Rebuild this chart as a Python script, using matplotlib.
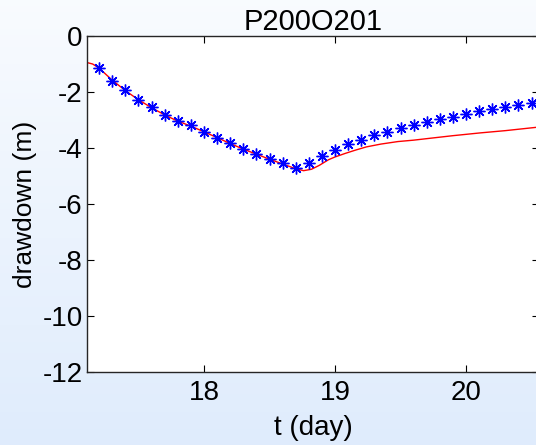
import numpy as np
import matplotlib.pyplot as plt

plt.rcParams['font.family'] = ['Liberation Sans', 'DejaVu Sans']

# observed drawdown (every 0.1 day)
t_obs = [17.2, 17.3, 17.4, 17.5, 17.6, 17.7, 17.8, 17.9, 18.0, 18.1,
         18.2, 18.3, 18.4, 18.5, 18.6, 18.7, 18.8, 18.9, 19.0, 19.1,
         19.2, 19.3, 19.4, 19.5, 19.6, 19.7, 19.8, 19.9, 20.0, 20.1,
         20.2, 20.3, 20.4, 20.5]
s_obs = [-1.13, -1.60, -1.94, -2.27, -2.55, -2.81, -3.02, -3.19, -3.42, -3.63,
         -3.83, -4.04, -4.21, -4.39, -4.55, -4.73, -4.55, -4.29, -4.07, -3.87,
         -3.70, -3.54, -3.42, -3.30, -3.19, -3.08, -2.98, -2.88, -2.80, -2.69,
         -2.62, -2.55, -2.48, -2.40]

# simulated drawdown
t_sim = [17.10, 17.15, 17.2, 17.3, 17.4, 17.5, 17.6, 17.7, 17.8, 17.9,
         18.0, 18.1, 18.2, 18.3, 18.4, 18.5, 18.6, 18.7, 18.76, 18.82,
         18.88, 18.95, 19.0, 19.08, 19.16, 19.24, 19.35, 19.48, 19.6, 19.73,
         19.9, 20.11, 20.3, 20.56]
s_sim = [-0.94, -1.00, -1.15, -1.58, -1.95, -2.28, -2.56, -2.82, -3.04, -3.22,
         -3.42, -3.63, -3.84, -4.04, -4.22, -4.40, -4.57, -4.74, -4.81, -4.76,
         -4.62, -4.42, -4.32, -4.19, -4.07, -3.96, -3.86, -3.77, -3.72, -3.65,
         -3.56, -3.46, -3.38, -3.25]

W, H = 536, 445
fig = plt.figure(figsize=(W / 100, H / 100), dpi=100)

# pale blue vertical gradient behind everything
bg = fig.add_axes([0, 0, 1, 1], zorder=-1)
grad = np.linspace(0, 1, 256).reshape(-1, 1)
top = np.array([0.975, 0.985, 0.998])
bot = np.array([0.875, 0.925, 0.990])
img = top + (bot - top) * grad[:, :, None]
bg.imshow(img, aspect='auto', extent=[0, 1, 0, 1])
bg.axis('off')

x0, x1 = 87 / W, 539 / W
y0, y1 = 1 - 372 / H, 1 - 36 / H
ax = fig.add_axes([x0, y0, x1 - x0, y1 - y0])
ax.set_facecolor('white')

ax.plot(t_sim, s_sim, color='red', lw=1.0)
ax.plot(t_obs, s_obs, ls='none', marker=(8, 2, 0), ms=8.5, mew=1.0,
        color='#0000ff')

ax.set_xlim(17.107, 20.557)
ax.set_ylim(-12, 0)
ax.set_xticks([18, 19, 20])
ax.set_yticks([0, -2, -4, -6, -8, -10, -12])
ax.set_yticklabels(['0', '-2', '-4', '-6', '-8', '-10', '-12'])
ax.tick_params(direction='in', length=5, width=0.8, labelsize=20,
               top=True, right=True)
ax.tick_params(axis='x', pad=6)
ax.tick_params(axis='y', pad=3)
for sp in ax.spines.values():
    sp.set_linewidth(1.0)
    sp.set_color('#262626')

ax.set_title('P200O201', fontsize=21, pad=4)
ax.set_xlabel('t (day)', fontsize=20, labelpad=6)
ax.set_ylabel('drawdown (m)', fontsize=19, labelpad=4)

fig.savefig('out.png', dpi=100)
